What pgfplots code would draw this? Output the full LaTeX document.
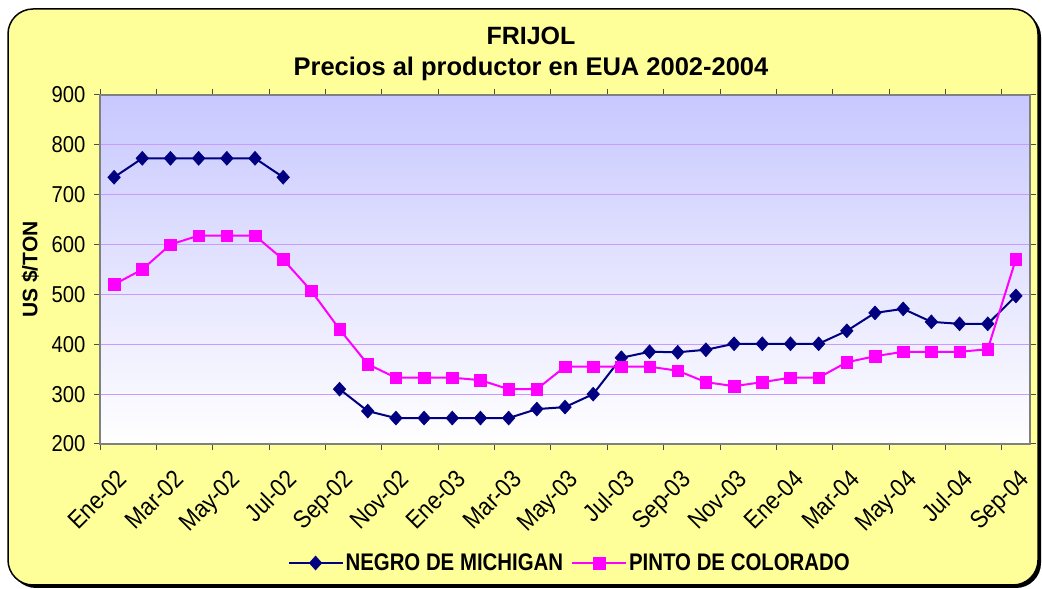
\documentclass[border=0pt]{standalone}
\usepackage{pgfplots}
\pgfplotsset{compat=1.18}
\usepackage{pgfplotstable}
\usepackage{fontspec}
\setmainfont{Liberation Sans}
\newfontfamily\tickfont[FakeStretch=0.88]{Liberation Sans}
\newfontfamily\legfont[FakeStretch=0.85]{Liberation Sans}
\definecolor{navyc}{HTML}{000080}
\definecolor{magc}{HTML}{FF00FF}
\definecolor{gridc}{HTML}{CC99FF}
\definecolor{plottop}{HTML}{C8C8FF}
\definecolor{yel}{HTML}{FFFF99}
\definecolor{yelpale}{HTML}{FFFFE0}

\pgfplotstableread{
x negro pinto
0 735 520
1 773 550
2 773 600
3 773 618
4 773 618
5 773 618
6 735 570
7 nan 507
8 310 430
9 266 360
10 252 333
11 252 333
12 252 333
13 252 328
14 252 310
15 270 310
16 274 355
17 300 355
18 373 355
19 385 355
20 384 347
21 389 324
22 401 316
23 401 324
24 401 333
25 401 333
26 427 364
27 463 376
28 471 385
29 445 385
30 441 385
31 441 390
32 497 571
}\datatable

\begin{document}
\begin{tikzpicture}[x=1bp,y=1bp]
\path (0,0) rectangle (1042,589);
\fill[black, rounded corners=25bp] (11,1) rectangle (1041,577);
\draw[line width=1.5bp, rounded corners=25bp, top color=yel, middle color=yelpale, bottom color=yel] (8,4) rectangle (1038,580);
\node[font=\fontsize{25bp}{28bp}\selectfont\bfseries] at (531,553) {FRIJOL};
\node[font=\fontsize{25.5bp}{28bp}\selectfont\bfseries] at (531,520) {Precios al productor en EUA 2002-2004};
\begin{axis}[
  at={(100bp,145bp)}, anchor=south west,
  width=930bp, height=349bp, scale only axis,
  xmin=-0.5, xmax=32.5, ymin=200, ymax=900,
  ytick={200,300,...,900},
  xtick={0,2,...,32},
  xticklabels={Ene-02,Mar-02,May-02,Jul-02,Sep-02,Nov-02,Ene-03,Mar-03,May-03,Jul-03,Sep-03,Nov-03,Ene-04,Mar-04,May-04,Jul-04,Sep-04},
  minor xtick={-0.5,1.5,...,31.5},
  xtick style={draw=none},
  minor x tick style={draw=black!70, line width=1bp},
  y tick style={draw=black!70, line width=1bp},
  tick align=outside,
  major tick length=6bp, minor tick length=6bp,
  ymajorgrids, grid style={gridc, line width=1bp},
  axis line style={draw=black!50, line width=2bp},
  axis background/.style={top color=plottop, bottom color=white},
  /pgf/number format/assume math mode=true,
  yticklabel style={font=\tickfont\fontsize{23bp}{26bp}\selectfont, xshift=-5bp},
  xticklabel style={font=\tickfont\fontsize{25bp}{28bp}\selectfont, rotate=45, anchor=north east, xshift=-8bp, yshift=-11bp},
  ylabel={US \$/TON},
  ylabel style={font=\fontsize{21bp}{24bp}\selectfont\bfseries, at={(axis description cs:-0.075,0.5)}, anchor=center},
  unbounded coords=jump,
  legend style={at={(0.505,-0.341)}, anchor=center, draw=none, fill=none, legend columns=2,
    font=\legfont\fontsize{24bp}{26bp}\selectfont\bfseries,
    /tikz/every even column/.append style={column sep=6bp}},
  legend image code/.code={\draw[#1, mark repeat=2, mark phase=2] plot coordinates {(0bp,0bp) (27bp,0bp) (54bp,0bp)};},
]
\addplot[navyc, line width=2bp, mark=diamond*, mark size=7bp, mark options={fill=navyc, draw=navyc, line width=0.5bp, xscale=1.2}] table[x=x, y=negro] {\datatable};
\addlegendentry{NEGRO DE MICHIGAN}
\addplot[magc, line width=2bp, mark=square*, mark size=5.8bp, mark options={fill=magc, draw=magc, line width=0.5bp}] table[x=x, y=pinto] {\datatable};
\addlegendentry{PINTO DE COLORADO}
\end{axis}
\end{tikzpicture}
\end{document}
